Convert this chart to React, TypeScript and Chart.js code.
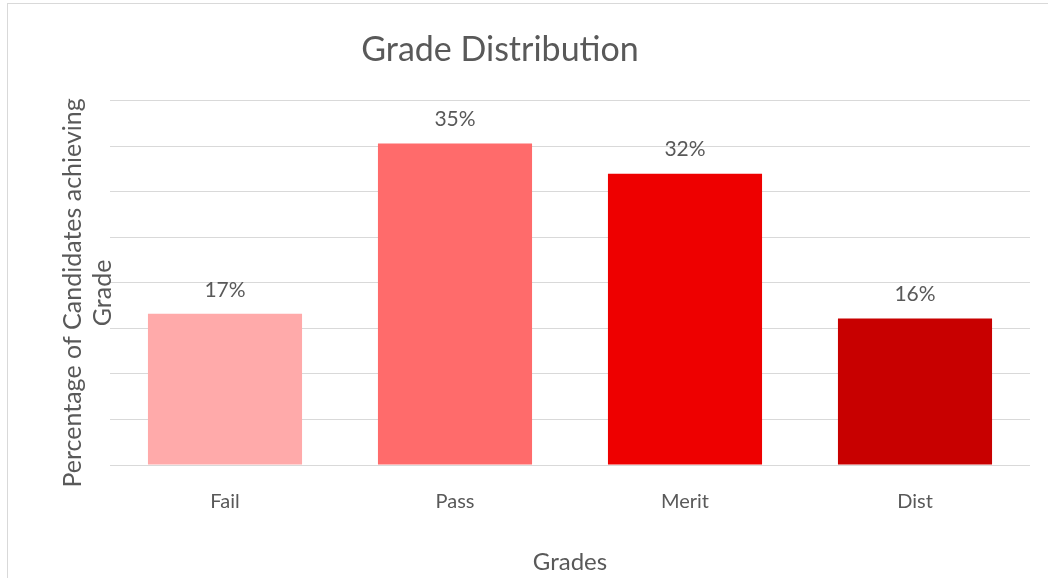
import React, { useEffect, useRef } from "react";
import { Chart, registerables } from "chart.js";

Chart.register(...registerables);

const categories = ["Fail", "Pass", "Merit", "Dist"];
const values = [16.6, 35.3, 32.0, 16.1];
const barColors = ["#FFAAAA", "#FF6B6B", "#EE0000", "#C80000"];
const yMax = 40;
const yStep = 5;
const yTitleLines = ["Percentage of Candidates achieving", "Grade"];

const FONT = "Lato, 'Open Sans', sans-serif";
const TEXT = "#595959";

const labelPlugin = {
  id: "barLabels",
  afterLayout(chart: any) {
    // centre the chart title over the frame rather than the canvas
    if (chart.titleBlock) {
      chart.titleBlock.left = 0;
      chart.titleBlock.right = chart.width - 48;
    }
  },
  afterDatasetsDraw(chart: any) {
    const ctx = chart.ctx;
    const meta = chart.getDatasetMeta(0);
    ctx.save();
    ctx.font = `21px ${FONT}`;
    ctx.fillStyle = TEXT;
    ctx.textAlign = "center";
    ctx.textBaseline = "middle";
    meta.data.forEach((bar: any, i: number) => {
      const v = chart.data.datasets[0].data[i];
      ctx.fillText(`${Math.round(v)}%`, bar.x, bar.y - 24);
    });
    // y axis title (two lines, rotated)
    const area = chart.chartArea;
    const cy = (area.top + area.bottom) / 2 + 10;
    ctx.font = `25px ${FONT}`;
    ctx.translate(area.left - 37, cy);
    ctx.rotate(-Math.PI / 2);
    yTitleLines.forEach((line, i) => {
      ctx.fillText(line, 0, i * 30);
    });
    ctx.restore();
  },
};

export default function App() {
  const ref = useRef<HTMLCanvasElement>(null);
  useEffect(() => {
    if (!ref.current) return;
    const chart = new Chart(ref.current, {
      type: "bar",
      data: {
        labels: categories,
        datasets: [
          {
            data: values,
            backgroundColor: barColors,
            barPercentage: 0.67,
            categoryPercentage: 1,
          },
        ],
      },
      options: {
        animation: false,
        responsive: false,
        maintainAspectRatio: false,
        layout: { padding: { left: 0, right: 18, top: 0, bottom: 0 } },
        plugins: {
          legend: { display: false },
          tooltip: { enabled: false },
          title: {
            display: true,
            text: "Grade Distribution",
            color: TEXT,
            font: { family: FONT, size: 34, weight: "normal", lineHeight: 1.2 },
            padding: { top: 30, bottom: 30 },
          },
        },
        scales: {
          x: {
            grid: { display: false, drawTicks: false },
            border: { display: false },
            ticks: {
              color: TEXT,
              font: { family: FONT, size: 20, lineHeight: 1.2 },
              padding: 25,
            },
            title: {
              display: true,
              text: "Grades",
              color: TEXT,
              font: { family: FONT, size: 24, lineHeight: 1.2 },
              padding: { top: 0, bottom: 1 },
            },
            afterFit(scale: any) {
              scale.height = 113;
            },
          },
          y: {
            min: 0,
            max: yMax,
            ticks: { display: false, stepSize: yStep },
            grid: { color: "#D9D9D9", lineWidth: 1, drawTicks: false },
            border: { display: false },
            afterFit(scale: any) {
              scale.width = 110;
            },
          },
        },
      },
      plugins: [labelPlugin],
    });
    return () => chart.destroy();
  }, []);

  return (
    <div style={{ position: "fixed", left: 0, top: 0, width: 1048, height: 578, background: "#fff", overflow: "hidden" }}>
      <div
        style={{
          position: "absolute",
          left: 7,
          top: 3,
          width: 1100,
          height: 700,
          border: "1px solid #D9D9D9",
          boxSizing: "border-box",
        }}
      />
      <canvas ref={ref} width={1048} height={578} style={{ position: "absolute", left: 0, top: 0 }} />
    </div>
  );
}
